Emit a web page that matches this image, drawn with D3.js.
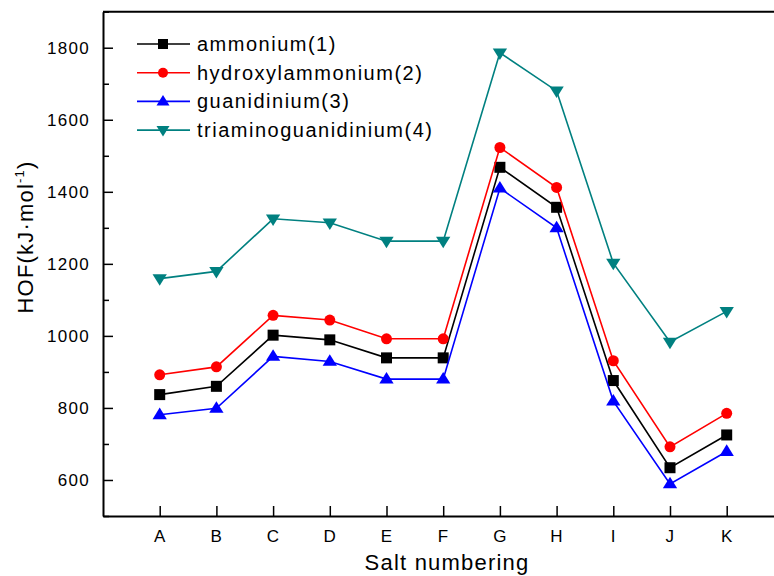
<!DOCTYPE html>
<html>
<head>
<meta charset="utf-8">
<script src="https://cdn.jsdelivr.net/npm/d3@7"></script>
<style>
  body { margin: 0; background: #fff; }
  text { font-family: "Liberation Sans", Arial, sans-serif; }
</style>
</head>
<body>
<svg id="chart"></svg>
<script>
// salts and HOF values (kJ/mol)
var categories = ['A', 'B', 'C', 'D', 'E', 'F', 'G', 'H', 'I', 'J', 'K'];
var ammonium = [837, 860, 1002, 989, 939, 939, 1468, 1357, 876, 634, 725];
var hydroxylammonium = [892, 914, 1057, 1044, 992, 992, 1523, 1412, 931, 692, 785];
var guanidinium = [781, 799, 943, 929, 880, 880, 1410, 1300, 819, 589, 679];
var triaminoguanidinium = [1159, 1179, 1325, 1314, 1263, 1263, 1786, 1680, 1202, 983, 1068];
var yMajor = [600, 800, 1000, 1200, 1400, 1600, 1800];
var yMinor = [500, 700, 900, 1100, 1300, 1500, 1700, 1900];

var series = [
  {name: 'ammonium(1)', values: ammonium, color: '#000000', shape: 'square'},
  {name: 'hydroxylammonium(2)', values: hydroxylammonium, color: '#ff0000', shape: 'circle'},
  {name: 'guanidinium(3)', values: guanidinium, color: '#0000ff', shape: 'up'},
  {name: 'triaminoguanidinium(4)', values: triaminoguanidinium, color: '#008080', shape: 'down'}
];

var width = 774, height = 576;
var plotLeft = 103, plotRight = 783.4, plotTop = 11.7, plotBottom = 516;

var svg = d3.select('#chart')
    .attr('width', width)
    .attr('height', height);

var x = d3.scaleLinear().domain([0, 12]).range([plotLeft, plotRight]);
var y = d3.scaleLinear().domain([500, 1900]).range([plotBottom, plotTop]);

// frame lines on top and right
svg.append('line')
  .attr('x1', plotLeft).attr('x2', plotRight).attr('y1', plotTop).attr('y2', plotTop)
  .attr('stroke', '#000').attr('stroke-width', 2);
svg.append('line')
  .attr('x1', plotRight).attr('x2', plotRight).attr('y1', plotTop).attr('y2', plotBottom)
  .attr('stroke', '#000').attr('stroke-width', 2);

// left axis, ticks point inward
var yAxis = d3.axisLeft(y)
    .tickValues(yMajor)
    .tickSizeInner(-10)
    .tickSizeOuter(0)
    .tickPadding(13)
    .tickFormat(d3.format('d'));

var gy = svg.append('g')
    .attr('transform', 'translate(' + plotLeft + ',0)')
    .call(yAxis);

var yMinorAxis = d3.axisLeft(y)
    .tickValues(yMinor)
    .tickSizeInner(-6)
    .tickSizeOuter(0)
    .tickFormat('');

svg.append('g')
    .attr('transform', 'translate(' + plotLeft + ',0)')
    .call(yMinorAxis)
    .select('.domain').remove();

var xAxis = d3.axisBottom(x)
    .tickValues(d3.range(1, categories.length + 1))
    .tickSizeInner(-10)
    .tickSizeOuter(0)
    .tickPadding(14)
    .tickFormat(function(d) { return categories[d - 1]; });

var gx = svg.append('g')
    .attr('transform', 'translate(0,' + plotBottom + ')')
    .call(xAxis);

[gx, gy].forEach(function(g) {
  g.selectAll('.domain').attr('stroke-width', 2);
  g.selectAll('text')
    .attr('font-size', 17)
    .attr('letter-spacing', 1.3)
    .attr('fill', '#000')
    .style('font-family', '"Liberation Sans", Arial, sans-serif');
});
svg.selectAll('.tick line').attr('stroke-width', 1.5);

// axis titles
svg.append('text')
  .attr('x', 447).attr('y', 570)
  .attr('text-anchor', 'middle')
  .attr('font-size', 22)
  .attr('letter-spacing', 1.2)
  .text('Salt numbering');

var yt = svg.append('text')
  .attr('transform', 'translate(33,237) rotate(-90)')
  .attr('text-anchor', 'middle')
  .attr('font-size', 22)
  .attr('letter-spacing', 1.2);
yt.append('tspan').text('HOF(kJ\u00b7mol');
yt.append('tspan').attr('font-size', 13).attr('dy', -9).text('-1');
yt.append('tspan').attr('dy', 9).text(')');

// marker drawing
function marker(g, shape, color, s) {
  if (shape === 'square') {
    g.append('rect')
      .attr('x', -s / 2).attr('y', -s / 2)
      .attr('width', s).attr('height', s)
      .attr('fill', color);
  } else if (shape === 'circle') {
    g.append('circle').attr('r', s / 2).attr('fill', color);
  } else {
    var w = s * 1.3, h = s * 1.05;
    var pts = shape === 'up'
      ? [[0, -h * 0.62], [w / 2, h * 0.38], [-w / 2, h * 0.38]]
      : [[0, h * 0.62], [w / 2, -h * 0.38], [-w / 2, -h * 0.38]];
    g.append('path')
      .attr('d', 'M' + pts.join('L') + 'Z')
      .attr('fill', color);
  }
}

var line = d3.line()
    .x(function(d, i) { return x(i + 1); })
    .y(function(d) { return y(d); });

series.forEach(function(s) {
  svg.append('path')
    .datum(s.values)
    .attr('d', line)
    .attr('fill', 'none')
    .attr('stroke', s.color)
    .attr('stroke-width', 1.6);

  svg.selectAll(null)
    .data(s.values)
    .enter()
    .append('g')
    .attr('transform', function(d, i) {
      return 'translate(' + x(i + 1) + ',' + y(d) + ')';
    })
    .each(function() { marker(d3.select(this), s.shape, s.color, 11); });
});

// legend
var legend = svg.append('g');
series.forEach(function(s, i) {
  var ly = 44 + i * 28.7;
  var row = legend.append('g').attr('transform', 'translate(0,' + ly + ')');
  row.append('line')
    .attr('x1', 137).attr('x2', 190)
    .attr('stroke', s.color).attr('stroke-width', 1.6);
  var m = row.append('g').attr('transform', 'translate(163,0)');
  marker(m, s.shape, s.color, 10);
  row.append('text')
    .attr('x', 197).attr('y', 7)
    .attr('font-size', 20)
    .attr('letter-spacing', 1.5)
    .text(s.name);
});
</script>
</body>
</html>
